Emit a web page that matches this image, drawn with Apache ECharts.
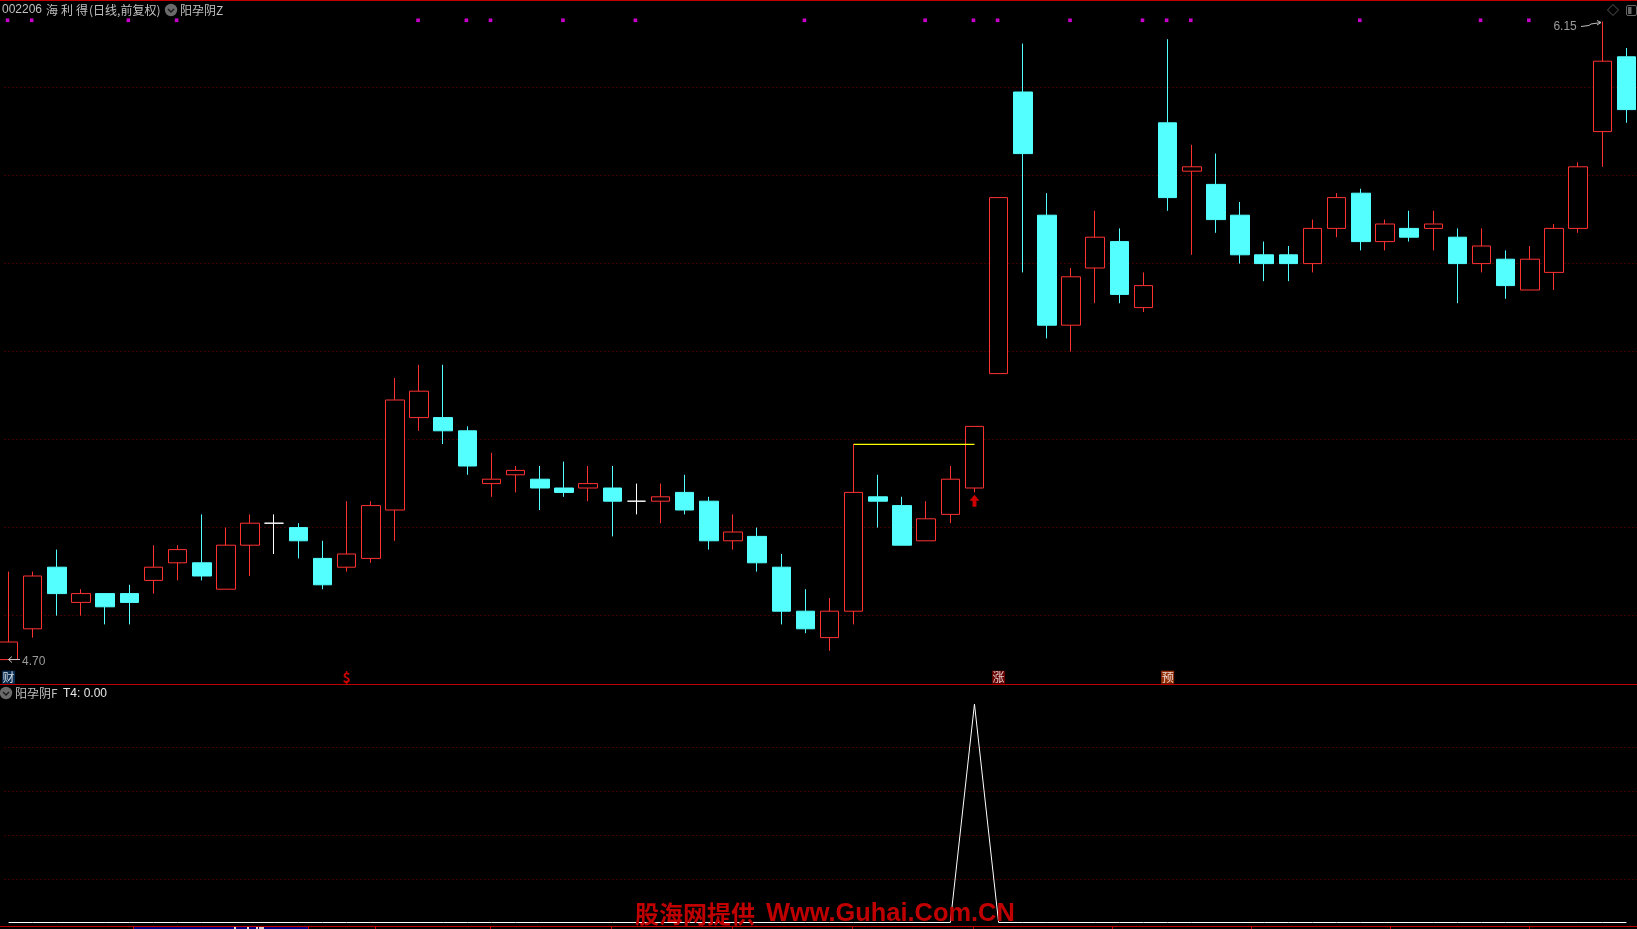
<!DOCTYPE html>
<html><head><meta charset="utf-8">
<style>html,body{margin:0;padding:0;background:#000;overflow:hidden}#c{width:1637px;height:929px}</style>
<script src="https://cdn.jsdelivr.net/npm/echarts@6/dist/echarts.min.js"></script>
</head><body><div id="c"></div>
<script>
const opens  = [4.70,4.77,4.91,4.83,4.85,4.85,4.88,4.92,4.92,4.86,4.96,5.01,5.00,4.93,4.91,4.93,5.04,5.25,5.25,5.22,5.10,5.12,5.11,5.09,5.09,5.09,5.06,5.06,5.08,5.06,4.97,4.98,4.91,4.81,4.75,4.81,5.07,5.05,4.97,5.03,5.09,5.35,5.99,5.71,5.46,5.59,5.65,5.50,5.92,5.81,5.78,5.71,5.62,5.62,5.60,5.68,5.76,5.65,5.68,5.68,5.66,5.60,5.61,5.54,5.58,5.68,5.90,6.07];
const closes = [4.74,4.89,4.85,4.85,4.82,4.83,4.91,4.95,4.89,4.96,5.01,5.01,4.97,4.87,4.94,5.05,5.29,5.31,5.22,5.14,5.11,5.13,5.09,5.08,5.10,5.06,5.06,5.07,5.04,4.97,4.99,4.92,4.81,4.77,4.81,5.08,5.06,4.96,5.02,5.11,5.23,5.75,5.85,5.46,5.57,5.66,5.53,5.55,5.75,5.82,5.70,5.62,5.60,5.60,5.68,5.75,5.65,5.69,5.66,5.69,5.60,5.64,5.55,5.61,5.68,5.82,6.06,5.95];
const lows   = [4.70,4.75,4.80,4.80,4.78,4.78,4.85,4.88,4.88,4.86,4.89,4.94,4.93,4.86,4.90,4.92,4.97,5.22,5.19,5.12,5.07,5.08,5.04,5.07,5.06,4.98,5.03,5.01,5.03,4.95,4.95,4.90,4.78,4.76,4.72,4.78,5.00,4.96,4.97,5.01,5.08,5.35,5.58,5.43,5.40,5.51,5.51,5.49,5.72,5.62,5.67,5.60,5.56,5.56,5.58,5.66,5.63,5.63,5.65,5.63,5.51,5.58,5.52,5.54,5.54,5.67,5.82,5.92];
const highs  = [4.90,4.90,4.95,4.86,4.85,4.87,4.96,4.96,5.03,5.00,5.03,5.03,5.01,4.97,5.06,5.06,5.34,5.37,5.37,5.23,5.17,5.14,5.14,5.15,5.14,5.14,5.10,5.10,5.12,5.07,5.03,5.00,4.94,4.86,4.84,5.19,5.12,5.07,5.06,5.14,5.23,5.75,6.10,5.76,5.59,5.72,5.68,5.58,6.11,5.87,5.85,5.74,5.65,5.64,5.70,5.76,5.77,5.70,5.72,5.72,5.68,5.68,5.63,5.64,5.69,5.83,6.15,6.09];
const t4 = [0,0,0,0,0,0,0,0,0,0,0,0,0,0,0,0,0,0,0,0,0,0,0,0,0,0,0,0,0,0,0,0,0,0,0,0,0,0,0,0,1,0,0,0,0,0,0,0,0,0,0,0,0,0,0,0,0,0,0,0,0,0,0,0,0,0,0,0];
const categories = opens.map((_, i) => String(i + 1));
const signalDays = [0,1,5,7,17,19,20,23,26,33,38,40,41,44,47,48,49,56,61,63];
const signalLevel = 6.153;
const eventDays = [0,14,41,48];
const eventTexts = ['财','$','涨','预'];
const eventFills = ['#0c3a68','transparent','#800000','#b83a08'];
const eventTextColors = ['#ffffff','#ff0000','#ffffff','#ffffff'];
const eventLevel = 4.66;
const resistanceStart = 35, resistanceEnd = 40, resistanceLevel = 5.189;
const arrowDay = 40, arrowLevel = 5.061;
const lowestDay = 0, lowestPrice = 4.70, highestDay = 66, highestPrice = 6.15;
const gridColor = '#800000', frameRed = '#c00000', labelGrey = '#c0c0c0';
const cjk = '"Noto Sans CJK SC","Liberation Sans",sans-serif';
const latin = '"Liberation Sans","Noto Sans CJK SC",sans-serif';

const candles = opens.map((o, i) => {
  const v = [o, closes[i], lows[i], highs[i]];
  if (o !== closes[i]) return v;
  return {value: v, itemStyle: {color:'#fff', color0:'#fff', borderColor:'#fff', borderColor0:'#fff', borderColorDoji:'#fff'}};
});

function text(x, y, s, fill, size, font, extra) {
  return {type:'text', x, y, z:20, silent:true,
    style:Object.assign({text:s, fill, fontSize:size, fontFamily:font||cjk, textVerticalAlign:'middle', textBaseline:'middle'}, extra||{})};
}
function hline(x, y, w, fill, h) { return {type:'rect', z:15, silent:true, shape:{x, y, width:w, height:h||1}, style:{fill}}; }
function chevronIcon(cx, cy) {
  return [
    {type:'circle', z:20, silent:true, shape:{cx, cy, r:6.2}, style:{fill:'#6a6a6a'}},
    {type:'polyline', z:21, silent:true, shape:{points:[[cx-3,cy-1],[cx,cy+2],[cx+3,cy-1]]}, style:{stroke:'#1a1a1a', lineWidth:1.4, fill:'none'}}
  ];
}
const ticks = [133,308,375,490,611,732,852,973,1112,1251,1390,1529];
const graphics = [
  {type:'rect', z:1, silent:true, shape:{x:0,y:0,width:3,height:926}, style:{fill:'#000'}},
  hline(0,0,1637,frameRed), hline(0,684,1637,frameRed), hline(0,926,1637,frameRed),
  hline(133,927,175,'#000080',2),
  hline(234,927,2,'#e0e0e0',2), hline(247,927,2,'#e0e0e0',2), hline(256,927,2,'#e0e0e0',2), hline(259,927,5,'#d0d0d0',2),
  ...ticks.map(x => ({type:'rect', z:15, silent:true, shape:{x, y:926, width:1, height:3}, style:{fill:frameRed}})),
  text(2,10,'002206',labelGrey,12,latin),
  text(46,10,'海',labelGrey,12), text(61,10,'利',labelGrey,12), text(76,10,'得',labelGrey,12),
  text(89,10,'(日线,前复权)',labelGrey,12),
  ...chevronIcon(171,10),
  text(180,10,'阳孕阴Z',labelGrey,12),
  ...chevronIcon(6,693),
  text(15,693,'阳孕阴F',labelGrey,12),
  text(63,694,'T4: 0.00','#e8e8e8',12,latin),
  {type:'polygon', z:20, silent:true, shape:{points:[[1613,4.5],[1618.5,10],[1613,15.5],[1607.5,10]]}, style:{stroke:'#555', fill:'none', lineWidth:1}},
  {type:'rect', z:20, silent:true, shape:{x:1626.5,y:5.5,width:10,height:10,r:1.5}, style:{stroke:'#666', fill:'none', lineWidth:1}},
  {type:'rect', z:20, silent:true, shape:{x:1628,y:7,width:3.5,height:7}, style:{fill:'#666'}},
  {type:'polyline', z:20, silent:true, shape:{points:[[1581,26.5],[1589,25.5],[1591,24],[1601,22.5]]}, style:{stroke:labelGrey, lineWidth:1, fill:'none'}},
  {type:'polyline', z:20, silent:true, shape:{points:[[1597,20.5],[1601,22.5],[1597,25]]}, style:{stroke:labelGrey, lineWidth:1, fill:'none'}},
  {type:'polyline', z:20, silent:true, shape:{points:[[20,659.5],[8,659.5]]}, style:{stroke:labelGrey, lineWidth:1, fill:'none'}},
  {type:'polyline', z:20, silent:true, shape:{points:[[12,656.5],[8.5,659.5],[12,662.5]]}, style:{stroke:labelGrey, lineWidth:1, fill:'none'}},
  {type:'text', x:635, y:914, z:30, silent:true, style:{text:'股海网提供', fill:frameRed, fontSize:24, fontWeight:'bold', fontFamily:cjk, textBaseline:'middle', textVerticalAlign:'middle'}},
  {type:'text', x:766, y:914, z:30, silent:true, style:{text:'Www.Guhai.Com.CN', fill:frameRed, fontSize:25.4, fontWeight:'bold', fontFamily:latin, textBaseline:'middle', textVerticalAlign:'middle'}}
];
const splitLine = {show:true, showMinLine:false, showMaxLine:false, lineStyle:{color:gridColor, type:[1,3], width:1}};
const option = {
  backgroundColor:'#000', animation:false,
  grid:[
    {left:-3.5, width:1642, top:-0.4, height:704, containLabel:false, outerBoundsMode:'none'},
    {left:-3.5, width:1642, top:704, height:218.5, containLabel:false, outerBoundsMode:'none'}
  ],
  xAxis:[
    {type:'category', gridIndex:0, data:categories, show:false, boundaryGap:true},
    {type:'category', gridIndex:1, data:categories, show:false, boundaryGap:true}
  ],
  yAxis:[
    {type:'value', gridIndex:0, min:4.6, max:6.2, interval:0.2, axisLine:{show:false}, axisTick:{show:false}, axisLabel:{show:false}, splitLine},
    {type:'value', gridIndex:1, min:0, max:1, interval:0.2, axisLine:{show:false}, axisTick:{show:false}, axisLabel:{show:false}, splitLine}
  ],
  series:[
    {type:'candlestick', name:'K', xAxisIndex:0, yAxisIndex:0, data:candles, barWidth:19, clip:false, z:3,
      itemStyle:{color:'#000', color0:'#54ffff', borderColor:'#ff3232', borderColor0:'#54ffff', borderColorDoji:'#fff', borderWidth:1}},
    {type:'line', name:'压力', xAxisIndex:0, yAxisIndex:0, z:5, symbol:'none', silent:true,
      data:categories.map((_, i) => (i >= resistanceStart && i <= resistanceEnd) ? resistanceLevel : null),
      lineStyle:{color:'#ffff00', width:1.3}},
    {type:'scatter', name:'信号', xAxisIndex:0, yAxisIndex:0, z:5, symbol:'rect', symbolSize:3.6, symbolOffset:[-1,0], clip:false, silent:true,
      data:signalDays.map(d => [d, signalLevel]), itemStyle:{color:'#ff00ff'}},
    {type:'scatter', name:'买点', xAxisIndex:0, yAxisIndex:0, z:5, clip:false, silent:true,
      symbol:'path://M5 0L10 6L7 6L7 12L3 12L3 6L0 6Z', symbolSize:[10,12],
      data:[[arrowDay, arrowLevel]], itemStyle:{color:'#ff0000'}},
    {type:'scatter', name:'事件', xAxisIndex:0, yAxisIndex:0, z:6, clip:false, silent:true, symbol:'rect', symbolSize:13,
      data:eventDays.map((d, i) => ({
        value:[d, eventLevel],
        itemStyle:{color:eventFills[i]},
        label:{show:true, position:'inside', formatter:eventTexts[i], color:eventTextColors[i], fontSize:i===1?14:12,
          fontWeight:i===1?'bold':'normal', fontFamily:cjk}
      }))},
    {type:'scatter', name:'极值', xAxisIndex:0, yAxisIndex:0, z:6, clip:false, silent:true, symbolSize:1,
      itemStyle:{color:'transparent'},
      data:[
        {value:[lowestDay, lowestPrice], label:{show:true, position:'right', distance:0, offset:[13,2], formatter:lowestPrice.toFixed(2), color:labelGrey, fontSize:12, fontFamily:latin}},
        {value:[highestDay, highestPrice], label:{show:true, position:'left', distance:0, offset:[-25,5], formatter:highestPrice.toFixed(2), color:labelGrey, fontSize:12, fontFamily:latin}}
      ]},
    {type:'line', name:'T4', xAxisIndex:1, yAxisIndex:1, data:t4, symbol:'none', clip:false, z:4, silent:true,
      lineStyle:{color:'#ffffff', width:1}}
  ],
  graphic:graphics
};
const chart = echarts.init(document.getElementById('c'), null, {renderer:'canvas'});
chart.setOption(option);
</script></body></html>
